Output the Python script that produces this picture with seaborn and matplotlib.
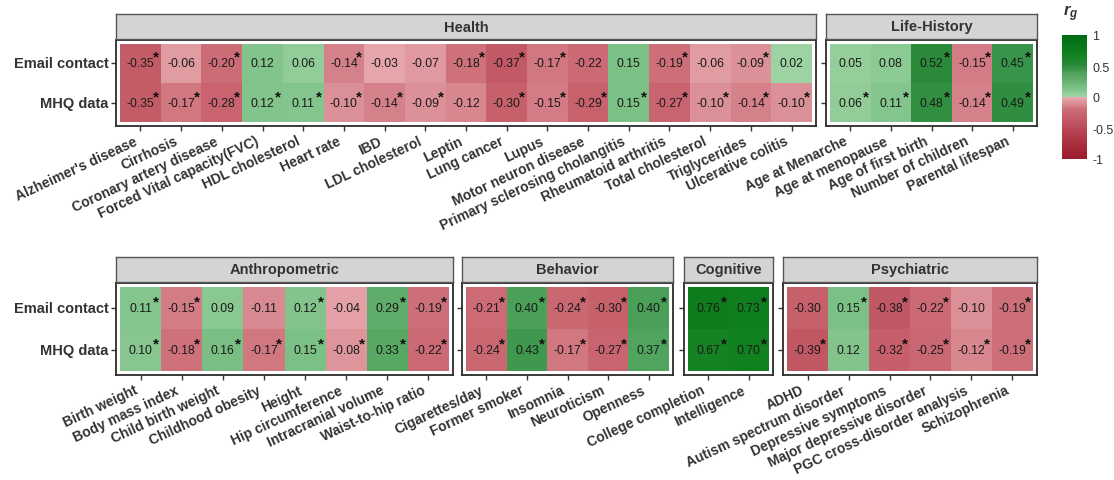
import numpy as np
import pandas as pd
import matplotlib
matplotlib.use("Agg")
import matplotlib.pyplot as plt
import matplotlib.transforms as mtrans
from matplotlib.colors import LinearSegmentedColormap
import seaborn as sns

# ---------------------------------------------------------------- data
sources = ["Email contact", "MHQ data"]

health_traits = ["Alzheimer's disease", "Cirrhosis", "Coronary artery disease",
                 "Forced Vital capacity(FVC)", "HDL cholesterol", "Heart rate", "IBD",
                 "LDL cholesterol", "Leptin", "Lung cancer", "Lupus", "Motor neuron disease",
                 "Primary sclerosing cholangitis", "Rheumatoid arthritis",
                 "Total cholesterol", "Triglycerides", "Ulcerative colitis"]
health_email = [-0.35, -0.06, -0.20, 0.12, 0.06, -0.14, -0.03, -0.07, -0.18, -0.37,
                -0.17, -0.22, 0.15, -0.19, -0.06, -0.09, 0.02]
health_mhq = [-0.35, -0.17, -0.28, 0.12, 0.11, -0.10, -0.14, -0.09, -0.12, -0.30,
              -0.15, -0.29, 0.15, -0.27, -0.10, -0.14, -0.10]
health_email_sig = [1, 0, 1, 0, 0, 1, 0, 0, 1, 1, 1, 0, 0, 1, 0, 1, 0]
health_mhq_sig = [1, 1, 1, 1, 1, 1, 1, 1, 0, 1, 1, 1, 1, 1, 1, 1, 1]

life_traits = ["Age at Menarche", "Age at menopause", "Age of first birth",
               "Number of children", "Parental lifespan"]
life_email = [0.05, 0.08, 0.52, -0.15, 0.45]
life_mhq = [0.06, 0.11, 0.48, -0.14, 0.49]
life_email_sig = [0, 0, 1, 1, 1]
life_mhq_sig = [1, 1, 1, 1, 1]

anthro_traits = ["Birth weight", "Body mass index", "Child birth weight",
                 "Childhood obesity", "Height", "Hip circumference",
                 "Intracranial volume", "Waist-to-hip ratio"]
anthro_email = [0.11, -0.15, 0.09, -0.11, 0.12, -0.04, 0.29, -0.19]
anthro_mhq = [0.10, -0.18, 0.16, -0.17, 0.15, -0.08, 0.33, -0.22]
anthro_email_sig = [1, 1, 0, 0, 1, 0, 1, 1]
anthro_mhq_sig = [1, 1, 1, 1, 1, 1, 1, 1]

behav_traits = ["Cigarettes/day", "Former smoker", "Insomnia", "Neuroticism", "Openness"]
behav_email = [-0.21, 0.40, -0.24, -0.30, 0.40]
behav_mhq = [-0.24, 0.43, -0.17, -0.27, 0.37]
behav_email_sig = [1, 1, 1, 1, 1]
behav_mhq_sig = [1, 1, 1, 1, 1]

cog_traits = ["College completion", "Intelligence"]
cog_email = [0.76, 0.73]
cog_mhq = [0.67, 0.70]
cog_email_sig = [1, 1]
cog_mhq_sig = [1, 1]

psych_traits = ["ADHD", "Autism spectrum disorder", "Depressive symptoms",
                "Major depressive disorder", "PGC cross-disorder analysis", "Schizophrenia"]
psych_email = [-0.30, 0.15, -0.38, -0.22, -0.10, -0.19]
psych_mhq = [-0.39, 0.12, -0.32, -0.25, -0.12, -0.19]
psych_email_sig = [0, 1, 1, 1, 0, 1]
psych_mhq_sig = [1, 0, 1, 1, 1, 1]

groups = {
    "Health": (health_traits, health_email, health_mhq, health_email_sig, health_mhq_sig),
    "Life-History": (life_traits, life_email, life_mhq, life_email_sig, life_mhq_sig),
    "Anthropometric": (anthro_traits, anthro_email, anthro_mhq, anthro_email_sig, anthro_mhq_sig),
    "Behavior": (behav_traits, behav_email, behav_mhq, behav_email_sig, behav_mhq_sig),
    "Cognitive": (cog_traits, cog_email, cog_mhq, cog_email_sig, cog_mhq_sig),
    "Psychiatric": (psych_traits, psych_email, psych_mhq, psych_email_sig, psych_mhq_sig),
}

# ---------------------------------------------------------------- style
sns.set_style("white")
plt.rcParams["font.family"] = ["Liberation Sans", "DejaVu Sans"]
plt.rcParams["mathtext.fontset"] = "custom"
plt.rcParams["mathtext.it"] = "Liberation Sans:italic:bold"
plt.rcParams["mathtext.rm"] = "Liberation Sans"

# diverging palette with a break at zero: reds below, greens above
cmap = LinearSegmentedColormap.from_list("rg_split", [
    (0.000, "#9e1b2e"),
    (0.100, "#a72b3b"),
    (0.200, "#b33e4d"),
    (0.300, "#c15663"),
    (0.400, "#cc6c76"),
    (0.425, "#d37d86"),
    (0.450, "#db8e96"),
    (0.475, "#e29fa5"),
    (0.4999, "#e9acb1"),
    (0.5001, "#a2d6a7"),
    (0.550, "#86c78f"),
    (0.600, "#72b97c"),
    (0.650, "#5fab69"),
    (0.700, "#4ba158"),
    (0.725, "#389449"),
    (0.760, "#2a8a3a"),
    (0.850, "#11801f"),
    (0.920, "#0a7619"),
    (1.000, "#006b14"),
])

W, H = 1114, 481
TEXT = "#333333"


def rect(left, top, right, bottom):
    return [left / W, 1 - bottom / H, (right - left) / W, (bottom - top) / H]


# panel frames in pixel space: (left, top, right, bottom), strip top
layout = {
    "Health": ((116, 41, 816, 127), 15),
    "Life-History": ((826, 41, 1037, 127), 15),
    "Anthropometric": ((116, 284, 453, 376), 258),
    "Behavior": ((462, 284, 673, 376), 258),
    "Cognitive": ((684, 284, 773, 376), 258),
    "Psychiatric": ((783, 284, 1037, 376), 258),
}
first_in_row = {"Health", "Anthropometric"}

fig = plt.figure(figsize=(W / 100, H / 100), dpi=100)
fig.patch.set_facecolor("white")

label_shift = mtrans.ScaledTranslation(-7 / 100, 0, fig.dpi_scale_trans)

pad = 0.1
mesh = None
for name, (traits, email, mhq, email_sig, mhq_sig) in groups.items():
    (l, t, r, b), strip_top = layout[name]
    ax = fig.add_axes(rect(l, t, r, b))
    df = pd.DataFrame([email, mhq], index=sources, columns=traits)
    sig = np.array([email_sig, mhq_sig])
    sns.heatmap(df, ax=ax, cmap=cmap, vmin=-1, vmax=1, cbar=False,
                xticklabels=traits, yticklabels=sources, linewidths=0)
    mesh = ax.collections[0]
    n = len(traits)
    ax.set_xlim(-pad, n + pad)
    ax.set_ylim(2 + pad, -pad)
    for s in ax.spines.values():
        s.set_visible(True)
        s.set_color("#2b2b2b")
        s.set_linewidth(1.3)
    ax.tick_params(axis="both", which="both", length=3.5, width=1.0, color="#333333",
                   bottom=True, left=True, pad=2)
    plt.setp(ax.get_xticklabels(), rotation=25, ha="right", va="top",
             rotation_mode="anchor", fontsize=10, fontweight="bold", color=TEXT)
    for tick in ax.xaxis.get_major_ticks():
        tick.label1.set_transform(tick.label1.get_transform() + label_shift)
    if name in first_in_row:
        plt.setp(ax.get_yticklabels(), rotation=0, fontsize=10.5, fontweight="bold",
                 color=TEXT)
    else:
        ax.set_yticklabels([])
    ax.set_xlabel("")
    ax.set_ylabel("")

    star_tr = mtrans.offset_copy(ax.transData, fig=fig, x=15.5, y=6.5, units="dots")
    for i in range(2):
        for j in range(n):
            v = df.iat[i, j]
            ax.text(j + 0.5, i + 0.5, f"{v:.2f}", ha="center", va="center",
                    fontsize=8.8, color="#1a1a1a")
            if sig[i, j]:
                ax.text(j + 0.5, i + 0.5, "*", ha="center", va="center",
                        fontsize=11, fontweight="bold", color="#111111",
                        transform=star_tr)

    # facet strip
    sax = fig.add_axes(rect(l, strip_top, r, t - 1))
    sax.set_facecolor("#d4d4d4")
    sax.set_xticks([])
    sax.set_yticks([])
    for s in sax.spines.values():
        s.set_color("#555555")
        s.set_linewidth(1.0)
    sax.text(0.5, 0.5, name, transform=sax.transAxes, ha="center", va="center",
             fontsize=10.5, fontweight="bold", color=TEXT)

# colour bar
cax = fig.add_axes(rect(1062, 36, 1087, 160))
cb = fig.colorbar(mesh, cax=cax, ticks=[-1, -0.5, 0, 0.5, 1])
cb.outline.set_visible(False)
cb.ax.set_yticklabels(["-1", "-0.5", "0", "0.5", "1"])
cax.tick_params(axis="y", direction="in", length=5, width=1, color="white",
                left=True, right=True, labelleft=False, labelright=True,
                labelsize=9, labelcolor=TEXT, pad=4)
fig.text(1063 / W, 1 - 14 / H, r"$r_g$", fontsize=12, color=TEXT, ha="left", va="center")

fig.savefig("out.png", dpi=100, facecolor="white")
